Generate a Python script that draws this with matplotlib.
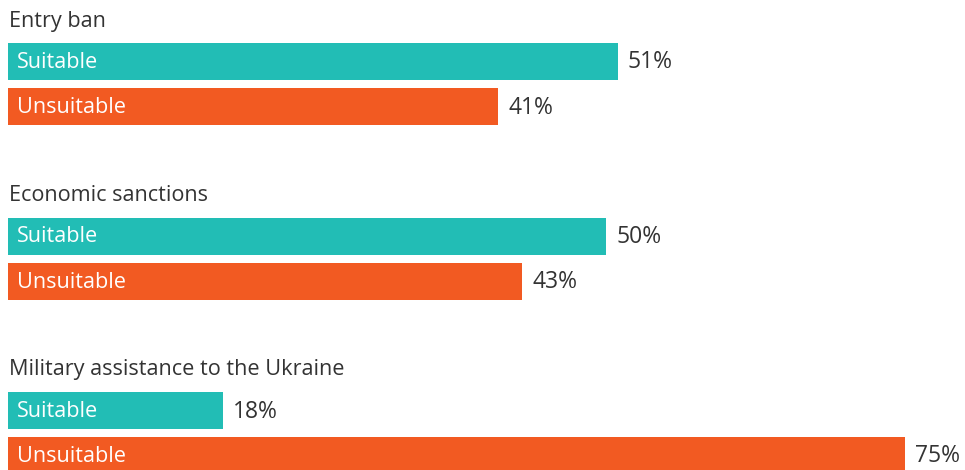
import matplotlib.pyplot as plt

measures = ["Entry ban", "Economic sanctions", "Military assistance to the Ukraine"]
suitable = [51, 50, 18]
unsuitable = [41, 43, 75]
answers = ["Suitable", "Unsuitable"]

TEAL = "#22bdb5"
ORANGE = "#f25a22"
TEXT = "#333333"

plt.rcParams['font.family'] = ['Open Sans', 'DejaVu Sans']

fig = plt.figure(figsize=(9.65, 4.70), dpi=100)
ax = fig.add_axes([0, 0, 1, 1])

px_per_pct = 11.96
x0 = 8
ax.set_xlim(-x0 / px_per_pct, (965 - x0) / px_per_pct)
ax.set_ylim(470, 0)
ax.axis('off')

group_step = 174.5
bar_h = 37
for i, name in enumerate(measures):
    top = i * group_step
    ax.text(0.05, top + 21, name, fontsize=15.6, color=TEXT, va='center', ha='left')
    for j, (val, col, lab) in enumerate(zip([suitable[i], unsuitable[i]], [TEAL, ORANGE], answers)):
        yc = top + 61.5 + j * 45
        ax.barh(yc, val, height=bar_h, color=col, left=0)
        ax.text(9 / px_per_pct, yc + 1, lab, fontsize=15.6, color='white', va='center', ha='left')
        ax.text(val + 10 / px_per_pct, yc + 1, f"{val}%", fontsize=16.5, color=TEXT, va='center', ha='left')

fig.savefig("out.png", dpi=100)
